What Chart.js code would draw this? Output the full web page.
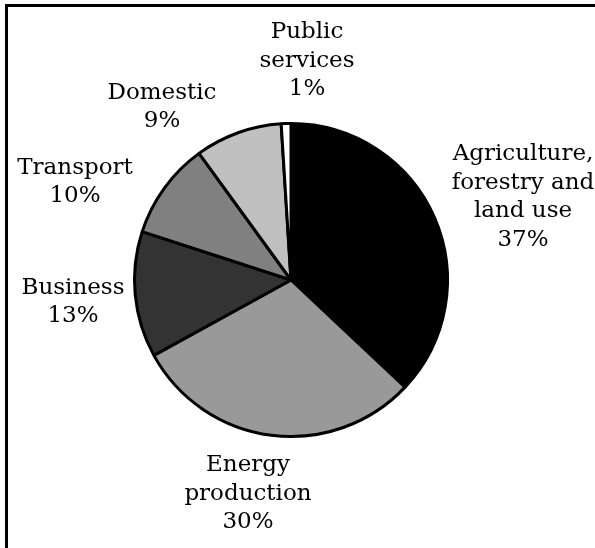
<!DOCTYPE html>
<html>
<head>
<meta charset="utf-8">
<script src="https://cdn.jsdelivr.net/npm/chart.js@4"></script>
<style>
    html, body { margin: 0; padding: 0; background: #ffffff; }
    #wrap { position: relative; width: 595px; height: 548px; overflow: hidden; }
    #frame {
        position: absolute; left: 5px; top: 4px; right: -10px; bottom: -10px;
        border-left: 3px solid #000; border-top: 3px solid #000;
    }
    canvas { position: absolute; left: 0; top: 0; }
</style>
</head>
<body>
<div id="wrap">
    <div id="frame"></div>
    <canvas id="pieChart" width="595" height="548"></canvas>
</div>
<script>
// Emissions by sector (% of total)
const sectors = [
    ['Agriculture,', 'forestry and', 'land use'],
    ['Energy', 'production'],
    ['Business'],
    ['Transport'],
    ['Domestic'],
    ['Public', 'services']
];
const shares = [37, 30, 13, 10, 9, 1];
const fills = ['#000000', '#999999', '#333333', '#808080', '#c0c0c0', '#ffffff'];

// label block centres, relative to the pie centre
const labelOffsets = [
    [232, -83], [-43, 214], [-218, 22], [-216, -98], [-129, -173], [16, -219]
];

const labelPlugin = {
    id: 'sectorLabels',
    afterDraw(chart) {
        const ctx = chart.ctx;
        const arcs = chart.getDatasetMeta(0).data;
        const lineH = 28.5;
        ctx.save();
        ctx.fillStyle = '#000';
        ctx.font = '23px "DejaVu Serif"';
        ctx.textAlign = 'center';
        ctx.textBaseline = 'middle';
        arcs.forEach((arc, i) => {
            const lines = [...sectors[i], shares[i] + '%'];
            const cx = arc.x + labelOffsets[i][0];
            const cy = arc.y + labelOffsets[i][1];
            const top = cy - (lines.length - 1) * lineH / 2;
            lines.forEach((t, j) => ctx.fillText(t, cx, top + j * lineH));
        });
        ctx.restore();
    }
};

new Chart(document.getElementById('pieChart').getContext('2d'), {
    type: 'pie',
    data: {
        labels: sectors.map(s => s.join(' ')),
        datasets: [{
            data: shares,
            backgroundColor: fills,
            borderColor: '#000000',
            borderWidth: 3
        }]
    },
    options: {
        responsive: false,
        animation: false,
        layout: { padding: { left: 133, right: 146, top: 122, bottom: 110 } },
        plugins: {
            legend: { display: false },
            tooltip: { enabled: false }
        }
    },
    plugins: [labelPlugin]
});
</script>
</body>
</html>
